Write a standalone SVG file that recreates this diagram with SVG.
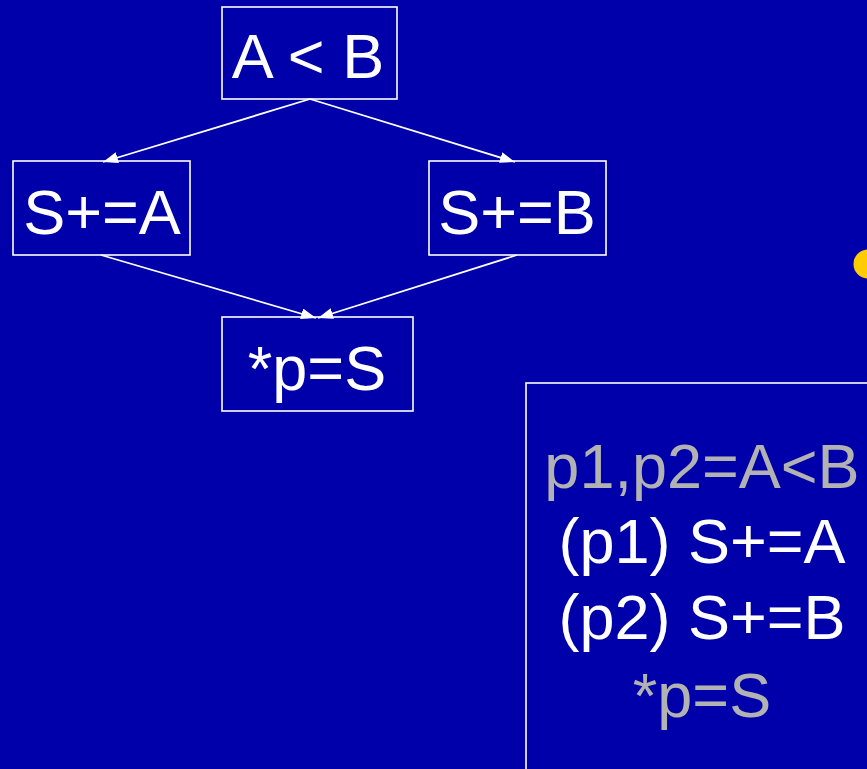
<svg xmlns="http://www.w3.org/2000/svg" width="867" height="769" viewBox="0 0 867 769">
<defs>
<style>
.box{fill:none;stroke:#FFFFFF;stroke-width:1.6}
.t{font-family:"Liberation Sans",Arial,sans-serif;font-size:63px;fill:#FFFFFF;text-anchor:middle}
.g{fill:#B2B2B2}
.c{stroke:#FFFFFF;stroke-width:1.8;fill:none;marker-end:url(#ah)}
</style>
<marker id="ah" markerUnits="userSpaceOnUse" markerWidth="15" markerHeight="11" refX="15" refY="5.5" orient="auto">
<path d="M0,0 L15,5.5 L0,11 z" fill="#FFFFFF"/>
</marker>
</defs>
<rect width="867" height="769" fill="#0000AA"/>
<circle cx="868" cy="264" r="14.5" fill="#FFCC00"/>
<g id="connectors">
<line class="c" x1="310" y1="99" x2="103" y2="162"/>
<line class="c" x1="310" y1="99" x2="515" y2="162"/>
<line class="c" x1="101" y1="255" x2="316" y2="318"/>
<line class="c" x1="517" y1="255" x2="318" y2="318"/>
</g>
<g id="n_cmp">
<rect class="box" x="222" y="7" width="175" height="92"/>
<text class="t" x="308" y="78">A &lt; B</text>
</g>
<g id="n_sa">
<rect class="box" x="13" y="161" width="177" height="94"/>
<text class="t" x="102" y="234">S+=A</text>
</g>
<g id="n_sb">
<rect class="box" x="429" y="161" width="177" height="94"/>
<text class="t" x="517" y="234">S+=B</text>
</g>
<g id="n_store">
<rect class="box" x="222" y="317" width="191" height="94"/>
<text class="t" x="317" y="390">*p=S</text>
</g>
<g id="n_pred">
<rect class="box" x="526" y="383" width="360" height="400"/>
<text class="t g" x="702" y="488">p1,p2=A&lt;B</text>
<text class="t" x="702" y="563">(p1) S+=A</text>
<text class="t" x="702" y="639">(p2) S+=B</text>
<text class="t g" x="702" y="717">*p=S</text>
</g>
</svg>
